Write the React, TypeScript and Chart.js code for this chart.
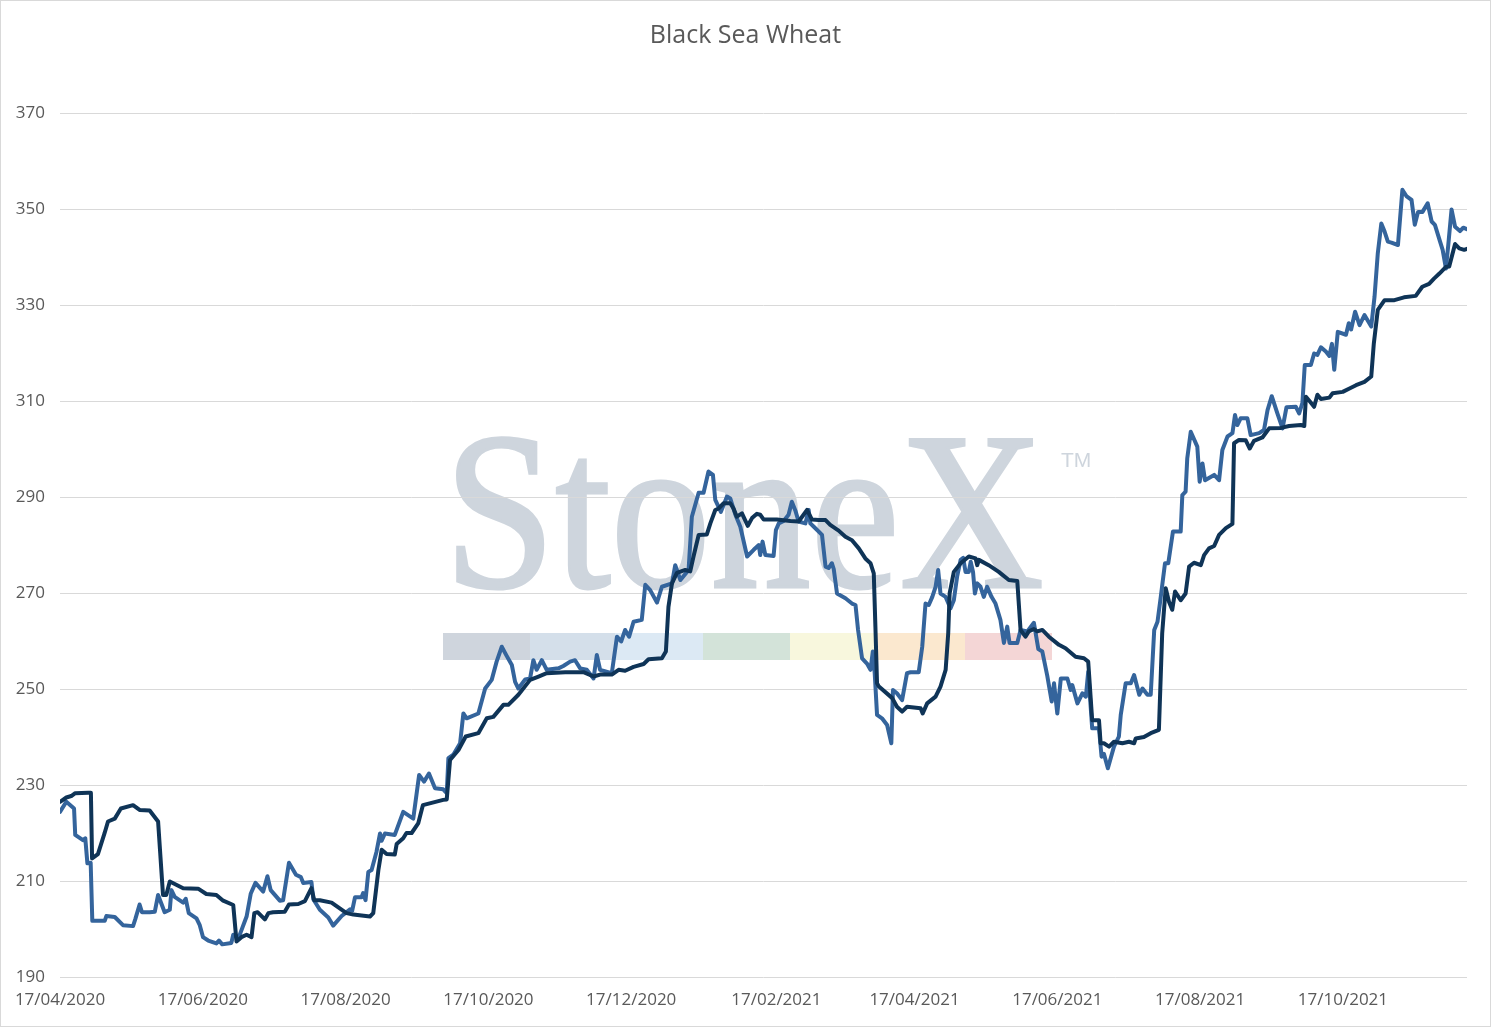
import { useEffect, useRef } from 'react'
import { Chart, registerables } from 'chart.js'

Chart.register(...registerables)

// days counted from 17/04/2020
const navyDays = [
  0, 2.7, 4.8, 6.5, 12, 13.2, 13.7, 16.2, 19, 20.5, 23.4, 26, 31.2, 34, 38.3, 41.9, 44, 45.4, 46.9, 52.6,
  59, 62.5, 66.8, 69.7, 74, 75.4, 77.5, 79.7, 81.8, 83, 84.4, 87.5, 89, 91, 96, 97.8, 101.8, 104.6, 107.4, 108.6,
  111, 116, 122.4, 125.3, 132.4, 133.8, 136, 137.4, 139.5, 143, 143.8, 146.6, 148, 150.2, 153, 155, 163.7, 165.2, 166.6, 170.2,
  173.3, 178.7, 182.3, 185.1, 189.4, 191.5, 195.8, 200.8, 204.4, 207.9, 215.8, 223.6, 227.9, 230.7, 235.7, 238.6, 241.4, 245, 249.3, 251.4,
  257.1, 258.8, 259.9, 261.4, 263.5, 267.1, 269.2, 270.6, 272.8, 276.3, 277.8, 279.9, 281.3, 283.5, 286.3, 287.7, 289.1, 291.3, 293.8, 295.6,
  297.7, 299.1, 300.6, 306.2, 312, 315.5, 319.1, 321.2, 324.1, 327, 329, 332.6, 335.5, 338.3, 341.2, 344, 346.2, 347.6, 348.3, 349,
  349.8, 355.5, 357.5, 359.7, 361.8, 367.6, 368.5, 370.4, 374, 376.1, 378.3, 379.4, 380, 381.8, 384.7, 388.2, 391.1, 391.8, 392.5, 396.7,
  401, 405.3, 408.9, 410.3, 412.4, 413.8, 416, 417.4, 419.6, 422.4, 426.7, 429.5, 433.8, 437.4, 439.2, 440.9, 443.8, 444.5, 445.9, 448.1,
  450.2, 453.8, 456.6, 458.8, 459.5, 463, 465.9, 469.4, 470.8, 472.3, 473.7, 475.1, 476.3, 478.7, 480.8, 482.3, 484.4, 487.3, 488.7, 490.8,
  493, 495.1, 498, 500.8, 501.5, 503.6, 506.5, 508.2, 510, 513.6, 516.5, 521.5, 525, 530, 531.5, 532.2, 533.9, 535.7, 537.1, 538.6,
  542.2, 543.6, 547.9, 550.8, 553.6, 557.2, 560.1, 561.2, 562.9, 565.8, 570, 574.1, 579.1, 581.9, 584.8, 586.9, 589.1, 591.9, 593.4, 595.9,
  597.7, 599.8, 601,
]
const navyValues = [
  226.5, 227.4, 227.7, 228.3, 228.4, 228.4, 214.7, 215.6, 219.9, 222.4, 223, 225.1, 225.8, 224.8, 224.7, 222.4, 207.1, 207.1, 209.9, 208.5,
  208.4, 207.3, 207.1, 205.9, 205, 197.4, 198.3, 198.8, 198.3, 203.3, 203.5, 202, 203.3, 203.5, 203.6, 205.1, 205.2, 205.8, 208.5, 206,
  206, 205.5, 203.3, 203, 202.6, 203.3, 212.3, 216.5, 215.6, 215.5, 217.7, 218.9, 220, 220, 222, 225.8, 226.9, 227, 235.2, 237.3,
  240.1, 240.8, 243.9, 244.2, 246.7, 246.7, 248.8, 251.9, 252.6, 253.3, 253.5, 253.5, 252.6, 253, 253, 254, 253.8, 254.6, 255.2, 256.2,
  256.4, 257.8, 267.1, 272, 274.2, 274.8, 274.5, 277.6, 282.1, 282.2, 284.5, 287.3, 287.6, 288.7, 288.7, 287.6, 285.9, 286.6, 284, 285.6,
  286.5, 286.3, 285.3, 285.3, 285, 284.9, 287.3, 285.3, 285.2, 285.2, 284.2, 283, 281.7, 281, 279.3, 277.2, 276.2, 274.1, 263, 251.2,
  250.5, 248.1, 246.3, 245.3, 246.3, 246, 244.9, 247, 248.4, 250.5, 254, 261.6, 269.9, 274.4, 276.2, 277.6, 277.2, 275.8, 276.9, 275.8,
  274.4, 272.7, 272.5, 262.3, 260.9, 262, 262.5, 262, 262.3, 260.9, 259.2, 258.5, 256.7, 256.4, 255.7, 243.5, 243.5, 238.7, 238.7, 238,
  239, 238.7, 239, 238.7, 239.7, 240, 240.8, 241.5, 261.6, 271, 268.2, 266.5, 270.3, 268.5, 269.9, 275.5, 276.3, 275.8, 277.9, 279.3,
  279.8, 282.1, 283.5, 284.4, 301.2, 301.9, 301.8, 300.1, 301.7, 302.4, 304.3, 304.4, 304.8, 305, 304.8, 310.9, 309.9, 308.8, 311.3, 310.4,
  310.7, 311.6, 311.9, 312.6, 313.3, 314, 315.1, 322, 329, 331, 331, 331.6, 331.9, 333.8, 334.4, 335.5, 336.5, 337.9, 338, 342.7,
  341.8, 341.5, 341.7,
]

const blueDays = [
  0, 2.7, 6, 6.5, 9.8, 10.8, 11.7, 13.1, 13.8, 19.1, 19.8, 23.4, 26.9, 31.2, 32.2, 34, 35, 38.3, 40.5, 41.9,
  44.7, 46.9, 47.6, 49, 52.6, 53.7, 55, 58.3, 59.7, 61.1, 63.3, 66.8, 67.9, 69.3, 73.2, 74, 76.4, 79.7, 81.5, 83.5,
  86.8, 88.6, 90, 93.9, 95.3, 97.8, 100.8, 102.9, 103.9, 107.4, 108.2, 111, 114.6, 116.7, 120.3, 123.9, 124.8, 126, 128.8, 129.5,
  130.5, 131.7, 133.1, 135.2, 136.7, 137.4, 138.8, 143, 146.6, 150.9, 153.4, 155.5, 157.6, 160.2, 163.7, 165.2, 165.9, 168, 170.9, 172.3,
  173.7, 178.7, 181.6, 184.4, 186.5, 188.7, 190.8, 193, 194.4, 195.8, 198.7, 200.8, 202.2, 203.6, 205.8, 207.9, 212.9, 215, 217.9, 220,
  222.2, 225, 227.9, 229.3, 230.7, 235.7, 237.9, 239.7, 241.4, 243.1, 245, 248.5, 250, 252.1, 255, 257.1, 261.4, 262.8, 265, 268.5,
  269.9, 272.8, 274.9, 277, 278.9, 279.9, 282.3, 284.9, 286.3, 288.5, 290.6, 293.5, 296.3, 298.5, 299.1, 300.1, 301.3, 304.8, 305.8, 307,
  309.1, 311.2, 312.6, 314.1, 315.5, 318.4, 319.8, 320.5, 322, 325.5, 327, 328.3, 329.7, 330.5, 331.9, 335.5, 338.3, 339.8, 340.9, 342.6,
  344.7, 346.2, 347.2, 348, 349, 351.1, 353.3, 355.1, 355.8, 357.5, 359.7, 361.8, 363.3, 366.8, 368.3, 369.7, 371.1, 372.6, 374, 375.1,
  376.1, 378.3, 380.4, 381.8, 383.2, 384.7, 385.8, 386.8, 388.2, 389, 390, 390.8, 391.8, 393.2, 394.6, 396, 397.9, 399.6, 401.7, 403.2,
  404.6, 405.6, 408.9, 410.3, 413.2, 416, 417.9, 419.6, 421.7, 423.6, 424.6, 426, 427.5, 430.3, 431.7, 432.4, 434.6, 436.7, 438.2, 439.2,
  440.9, 443.8, 444.9, 445.9, 447.6, 450.2, 452.3, 453.1, 455.2, 457.4, 458.8, 461, 462.4, 464.5, 465.9, 467.4, 468.8, 470.2, 472, 473.4,
  475.4, 478.7, 479.4, 480.8, 481.5, 483, 485.8, 486.8, 488, 489.1, 493, 495.1, 496.5, 498.7, 500.8, 501.9, 502.9, 504.3, 507.2, 508.6,
  512.2, 514.3, 515.8, 517.6, 520, 522.2, 523.9, 527.9, 529.3, 530.7, 531.7, 534.3, 535.7, 537.1, 538.6, 540.7, 542.2, 543.3, 544.3, 545.8,
  549.3, 550.5, 551.5, 553.2, 555.1, 557.2, 560.1, 561.5, 562.9, 564.4, 565.8, 567.2, 568.7, 571.5, 573.4, 575.1, 577.3, 578.7, 580.1, 582,
  584.2, 585.9, 587.3, 589.5, 590.6, 592, 593, 594.4, 595.9, 598, 599.4, 600.9,
]
const blueValues = [
  224.4, 226.5, 225.1, 219.6, 218.5, 218.9, 213.7, 213.8, 201.7, 201.7, 202.7, 202.5, 200.8, 200.6, 202.1, 205.1, 203.5, 203.5, 203.6, 207.1,
  203.5, 204, 208.1, 206.7, 205.5, 206.3, 203.3, 202.2, 200.8, 198.3, 197.6, 197, 197.6, 196.8, 197.1, 198.8, 198.3, 202.6, 207.4, 209.6,
  207.8, 211, 208.1, 205.9, 206, 213.8, 211.3, 210.8, 209.6, 209.8, 206.2, 204, 202.4, 200.7, 202.7, 204.1, 203.8, 206.6, 206.6, 207.5,
  206, 211.9, 212.3, 216.1, 219.9, 218.4, 219.9, 219.6, 224.4, 223, 232.1, 230.7, 232.4, 229.3, 229.1, 228.3, 235.6, 236.3, 238.7, 244.9,
  243.9, 244.9, 250.1, 251.9, 255.7, 258.8, 256.9, 255, 251.5, 250.1, 252, 252.2, 256, 254, 256, 254, 254.3, 254.8, 255.7, 256,
  254.3, 254, 252.2, 257.1, 254, 253.3, 260.9, 259.9, 262.3, 260.9, 264, 264.4, 271.7, 270.6, 268, 271.3, 272, 275.8, 272.7, 274.8,
  285.9, 290.9, 290.9, 295.3, 294.6, 289.4, 286.9, 290.1, 289.7, 286.3, 283.8, 277.6, 279, 280, 277.9, 280.7, 277.9, 277.7, 283.1, 284.5,
  285, 286.3, 289, 287.2, 284.9, 284.5, 287.3, 284.5, 283.8, 282.1, 275.5, 275.2, 276.2, 275, 269.9, 268.9, 267.8, 267.5, 262.3, 256.4,
  255.3, 254, 257.8, 253.3, 244.6, 243.9, 242.5, 238.7, 249.8, 249.1, 247.7, 253.3, 253.5, 253.5, 258.8, 267.8, 267.5, 269.2, 271.3, 274.8,
  269.9, 269.2, 266.8, 268.5, 273.4, 276.9, 277.3, 274.4, 274.4, 276.5, 274.4, 269.9, 272, 271.3, 269.2, 271.3, 269.2, 267.8, 264.4, 259.6,
  263, 259.6, 259.6, 262.3, 262, 263.8, 258.3, 257.8, 252.8, 247.4, 251.2, 244.9, 252.2, 252.2, 249.8, 250.8, 247, 249.1, 248.4, 253.6,
  241.8, 241.8, 235.9, 236.5, 233.5, 238, 240.1, 244.6, 251.2, 251.2, 252.9, 248.8, 250.1, 248.8, 248.8, 262.3, 264, 269.2, 276.2, 276.2,
  282.8, 282.8, 290.4, 291.1, 298, 303.6, 300.5, 293.2, 297, 293.5, 294.6, 293.5, 299.8, 302.6, 303.3, 307.1, 305, 306.4, 306.4, 302.9,
  303.3, 304, 308.1, 311, 307.4, 304.3, 308.7, 308.8, 307.4, 309.6, 317.5, 317.5, 319.9, 319.6, 321.2, 320.3, 319.4, 321.9, 316.5, 324.4,
  323.8, 326.2, 324.9, 328.6, 325.8, 327.9, 325.5, 331.7, 340.8, 347, 345.3, 343.2, 343, 342.5, 354, 352.7, 351.9, 346.7, 349.4, 349.4,
  351.2, 347.4, 346.7, 343.2, 341.5, 337.6, 342.5, 349.9, 346.3, 345.4, 346.1, 345.8,
]

const xTickLabels = [
  '17/04/2020', '17/06/2020', '17/08/2020', '17/10/2020', '17/12/2020',
  '17/02/2021', '17/04/2021', '17/06/2021', '17/08/2021', '17/10/2021',
]
const yTicks = [190, 210, 230, 250, 270, 290, 310, 330, 350, 370]
const chartTitle = 'Black Sea Wheat'

const toDay = (label: string) => {
  const [d, m, y] = label.split('/').map(Number)
  const [d0, m0, y0] = xTickLabels[0].split('/').map(Number)
  return Math.round((Date.UTC(y, m - 1, d) - Date.UTC(y0, m0 - 1, d0)) / 86400000)
}

const TEXT = '#595959'
const GRID = '#d9d9d9'
const FONT = "'Open Sans', sans-serif"

const watermark = {
  id: 'watermark',
  beforeDraw(chart: any) {
    const ctx = chart.ctx
    ctx.save()
    // word mark
    ctx.fillStyle = '#ced5dd'
    ctx.strokeStyle = '#ced5dd'
    ctx.lineWidth = 3
    ctx.font = "224px 'Liberation Serif', serif"
    ctx.textBaseline = 'alphabetic'
    const w = ctx.measureText('StoneX').width
    ctx.translate(444, 587)
    ctx.scale(600 / w, 1)
    ctx.fillText('StoneX', 0, 0)
    ctx.strokeText('StoneX', 0, 0)
    ctx.restore()
    ctx.save()
    ctx.fillStyle = '#ced5dd'
    ctx.font = "21px 'Liberation Sans', sans-serif"
    ctx.textBaseline = 'top'
    ctx.fillText('TM', 1061, 451)
    // colour band
    const bands: [number, number, string][] = [
      [443, 530, '#cfd5dd'],
      [530, 615, '#d4dfea'],
      [615, 703, '#dce9f4'],
      [703, 790, '#d3e3d9'],
      [790, 875, '#f8f7dd'],
      [875, 965, '#fbe8cf'],
      [965, 1052, '#f4d6d6'],
    ]
    bands.forEach(([a, b, c]) => {
      ctx.fillStyle = c
      ctx.fillRect(a, 633, b - a, 27)
    })
    ctx.restore()
  },
  afterDraw(chart: any) {
    const ctx = chart.ctx
    ctx.save()
    // title centred on the whole canvas
    ctx.fillStyle = TEXT
    ctx.font = `25px ${FONT}`
    ctx.textAlign = 'center'
    ctx.textBaseline = 'middle'
    ctx.fillText(chartTitle, chart.width / 2, 36)
    ctx.strokeStyle = GRID
    ctx.lineWidth = 1
    ctx.strokeRect(0.5, 0.5, chart.width - 1, chart.height - 1)
    ctx.restore()
  },
}

export default function App() {
  const chartRef = useRef<HTMLCanvasElement>(null)
  const chartInstance = useRef<Chart | null>(null)

  useEffect(() => {
    if (!chartRef.current) return
    if (chartInstance.current) chartInstance.current.destroy()
    const ctx = chartRef.current.getContext('2d')
    if (!ctx) return

    const tickDays = xTickLabels.map(toDay)

    chartInstance.current = new Chart(ctx, {
      type: 'line',
      data: {
        datasets: [
          {
            label: 'Series 1',
            data: navyDays.map((d, i) => ({ x: d, y: navyValues[i] })),
            borderColor: '#0f3457',
            borderWidth: 4,
            pointRadius: 0,
            tension: 0,
            borderJoinStyle: 'round',
            borderCapStyle: 'round',
          },
          {
            label: 'Series 2',
            data: blueDays.map((d, i) => ({ x: d, y: blueValues[i] })),
            borderColor: '#34649c',
            borderWidth: 4,
            pointRadius: 0,
            tension: 0,
            borderJoinStyle: 'round',
            borderCapStyle: 'round',
          },
        ],
      },
      options: {
        animation: false,
        responsive: true,
        maintainAspectRatio: false,
        layout: { padding: { left: 0, right: 24, top: 0, bottom: 0 } },
        plugins: {
          legend: { display: false },
          tooltip: { enabled: false },
          // reserves the space; the visible title is drawn by the plugin above
          title: {
            display: true,
            text: chartTitle,
            color: 'rgba(0,0,0,0)',
            font: { family: FONT, size: 25, weight: 'normal' },
            padding: { top: 22, bottom: 61 },
          },
        },
        scales: {
          x: {
            type: 'linear',
            min: 0,
            max: 601,
            afterBuildTicks: (scale: any) => {
              scale.ticks = tickDays.map((v) => ({ value: v }))
            },
            afterFit: (scale: any) => {
              scale.height = 50
            },
            ticks: {
              color: TEXT,
              font: { family: FONT, size: 17 },
              padding: 13,
              maxRotation: 0,
              autoSkip: false,
              callback: (v: any) => xTickLabels[tickDays.indexOf(Number(v))] ?? '',
            },
            grid: { display: false, drawTicks: false },
            border: { display: false },
          },
          y: {
            min: 190,
            max: 370,
            afterBuildTicks: (scale: any) => {
              scale.ticks = yTicks.map((v) => ({ value: v }))
            },
            afterFit: (scale: any) => {
              scale.width = 60
            },
            ticks: {
              color: TEXT,
              font: { family: FONT, size: 17 },
              padding: 15,
            },
            grid: { color: GRID, lineWidth: 1, drawTicks: false },
            border: { display: false },
          },
        },
      },
      plugins: [watermark],
    } as any)

    return () => {
      if (chartInstance.current) {
        chartInstance.current.destroy()
        chartInstance.current = null
      }
    }
  }, [])

  return (
    <div style={{ position: 'absolute', left: 0, top: 0, width: 1491, height: 1027, background: '#fff' }}>
      <canvas ref={chartRef} />
    </div>
  )
}
